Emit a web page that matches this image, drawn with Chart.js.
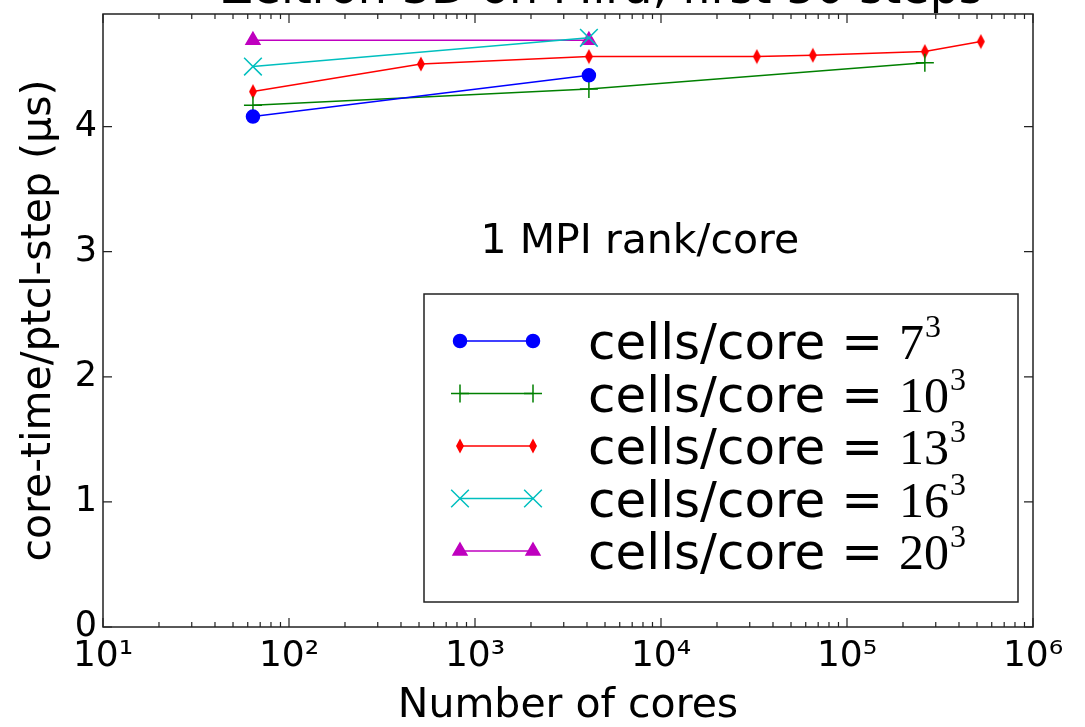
<!DOCTYPE html>
<html>
<head>
<meta charset="utf-8">
<script src="https://cdn.jsdelivr.net/npm/chart.js@4.4.0/dist/chart.umd.min.js"></script>
<style>
  html, body { margin: 0; padding: 0; background: #fff; overflow: hidden; }
</style>
</head>
<body>
<canvas id="chart" width="1085" height="727"></canvas>
<script>
// ===== DONNÉES =====
const cores7 = [64, 4096];
const time7 = [4.08, 4.41];
const cores10 = [64, 4096, 262144];
const time10 = [4.17, 4.30, 4.51];
const cores13 = [64, 512, 4096, 32768, 65536, 262144, 524288];
const time13 = [4.28, 4.50, 4.56, 4.56, 4.57, 4.60, 4.68];
const cores16 = [64, 4096];
const time16 = [4.48, 4.71];
const cores20 = [64, 4096];
const time20 = [4.69, 4.69];

const seriesNames = ['7', '10', '13', '16', '20'];
const xTickValues = [10, 100, 1000, 10000, 100000, 1000000];
const xTickLabels = ['10¹', '10²', '10³', '10⁴', '10⁵', '10⁶'];
const yTickValues = [0, 1, 2, 3, 4];

const titleText = 'Zeltron 3D on Mira, first 50 steps';
const noteText = '1 MPI rank/core';
const noteX = 7700;
const noteY = 2.99;

const FONT = '"DejaVu Sans", sans-serif';

// thin diamond marker (matplotlib 'd')
function thinDiamond(color) {
  const c = document.createElement('canvas');
  c.width = 10; c.height = 16;
  const g = c.getContext('2d');
  g.fillStyle = color;
  g.beginPath();
  g.moveTo(5, 0.5); g.lineTo(9, 8); g.lineTo(5, 15.5); g.lineTo(1, 8);
  g.closePath();
  g.fill();
  return c;
}

const pts = (xs, ys) => xs.map((x, i) => ({ x: x, y: ys[i] }));

const styles = [
  { color: '#0000ff', pointStyle: 'circle', radius: 6.5 },
  { color: '#008000', pointStyle: 'cross', radius: 9 },
  { color: '#ff0000', pointStyle: thinDiamond('#ff0000'), radius: 8 },
  { color: '#00bfbf', pointStyle: 'crossRot', radius: 12.5 },
  { color: '#bf00bf', pointStyle: 'triangle', radius: 8 }
];

const seriesData = [
  pts(cores7, time7),
  pts(cores10, time10),
  pts(cores13, time13),
  pts(cores16, time16),
  pts(cores20, time20)
];

const datasets = seriesData.map((d, i) => ({
  label: 'cells/core = ' + seriesNames[i] + '³',
  data: d,
  borderColor: styles[i].color,
  backgroundColor: styles[i].color,
  borderWidth: 1.5,
  pointStyle: styles[i].pointStyle,
  pointRadius: styles[i].radius,
  pointBorderWidth: 1.5,
  pointBackgroundColor: styles[i].color,
  pointBorderColor: styles[i].color,
  tension: 0
}));

// ===== PLUGIN : cadre, graduations, titre, note, légende =====
const decor = {
  id: 'decor',
  afterDraw(chart) {
    const ctx = chart.ctx;
    const a = chart.chartArea;
    const xs = chart.scales.x, ys = chart.scales.y;
    ctx.save();

    // frame
    ctx.strokeStyle = '#222';
    ctx.lineWidth = 1.5;
    ctx.strokeRect(a.left, a.top, a.right - a.left, a.bottom - a.top);

    // x ticks (inward, top and bottom)
    ctx.lineWidth = 1.2;
    ctx.beginPath();
    for (let d = 1; d < 6; d++) {
      for (let m = 1; m <= 10; m++) {
        const v = Math.pow(10, d) * m;
        const px = xs.getPixelForValue(v);
        const len = (m === 1 || m === 10) ? 9 : 5;
        ctx.moveTo(px, a.bottom); ctx.lineTo(px, a.bottom - len);
        ctx.moveTo(px, a.top); ctx.lineTo(px, a.top + len);
      }
    }
    // y ticks (inward, left and right)
    yTickValues.forEach(v => {
      const py = ys.getPixelForValue(v);
      ctx.moveTo(a.left, py); ctx.lineTo(a.left + 9, py);
      ctx.moveTo(a.right, py); ctx.lineTo(a.right - 9, py);
    });
    ctx.stroke();

    // title (cut by the top edge, as in the picture)
    ctx.fillStyle = '#000';
    ctx.font = '46px ' + FONT;
    ctx.textAlign = 'center';
    ctx.textBaseline = 'alphabetic';
    ctx.fillText(titleText, 602, 3);

    // note
    ctx.font = '41px ' + FONT;
    ctx.fillText(noteText, xs.getPixelForValue(noteX), ys.getPixelForValue(noteY));

    // legend
    const bx = a.right - 609, by = a.bottom - 333, bw = 594, bh = 308;
    ctx.fillStyle = '#fff';
    ctx.fillRect(bx, by, bw, bh);
    ctx.strokeStyle = '#222';
    ctx.lineWidth = 1.5;
    ctx.strokeRect(bx, by, bw, bh);

    datasets.forEach((ds, i) => {
      const cy = by + 47 + i * 52.5;
      const x1 = bx + 36, x2 = bx + 109;
      ctx.strokeStyle = ds.borderColor;
      ctx.lineWidth = 1.5;
      ctx.beginPath(); ctx.moveTo(x1, cy); ctx.lineTo(x2, cy); ctx.stroke();
      ctx.fillStyle = ds.borderColor;
      const opt = { pointStyle: ds.pointStyle, radius: ds.pointRadius, rotation: 0, borderWidth: 1.5 };
      Chart.helpers.drawPoint(ctx, opt, x1, cy);
      Chart.helpers.drawPoint(ctx, opt, x2, cy);

      ctx.fillStyle = '#000';
      ctx.textAlign = 'left';
      ctx.textBaseline = 'alphabetic';
      ctx.font = '50px ' + FONT;
      const tx = bx + 164, ty = cy + 18;
      const pre = 'cells/core = ';
      ctx.fillText(pre, tx, ty);
      let nx = tx + ctx.measureText(pre).width;
      ctx.font = '50px "Liberation Serif", serif';
      ctx.fillText(seriesNames[i], nx, ty);
      nx += ctx.measureText(seriesNames[i]).width;
      ctx.font = '32px "Liberation Serif", serif';
      ctx.fillText('3', nx + 1, ty - 22);
    });

    ctx.restore();
  }
};

// ===== CHART =====
const ctx = document.getElementById('chart').getContext('2d');
new Chart(ctx, {
  type: 'line',
  data: { datasets: datasets },
  options: {
    responsive: false,
    animation: false,
    layout: { padding: { top: 13, right: 52, left: 0, bottom: 0 } },
    plugins: {
      legend: { display: false },
      tooltip: { enabled: false },
      title: { display: false }
    },
    scales: {
      x: {
        type: 'logarithmic',
        min: 10,
        max: 1000000,
        grid: { display: false, drawTicks: false },
        border: { display: false },
        afterBuildTicks: s => { s.ticks = xTickValues.map(v => ({ value: v })); },
        afterFit: s => { s.height = 100; s.paddingLeft = 0; s.paddingRight = 0; },
        ticks: {
          autoSkip: false,
          maxRotation: 0,
          color: '#000',
          padding: 8,
          font: { family: FONT, size: 36 },
          callback: v => xTickLabels[xTickValues.indexOf(v)] || ''
        },
        title: {
          display: true,
          text: 'Number of cores',
          color: '#000',
          font: { family: FONT, size: 41, lineHeight: 1 },
          padding: { top: 0, bottom: 0 }
        }
      },
      y: {
        min: 0,
        max: 4.9,
        grid: { display: false, drawTicks: false },
        border: { display: false },
        afterBuildTicks: s => { s.ticks = yTickValues.map(v => ({ value: v })); },
        afterFit: s => { s.width = 103; s.paddingTop = 0; s.paddingBottom = 0; },
        ticks: {
          color: '#000',
          padding: 6,
          font: { family: FONT, size: 35 }
        },
        title: {
          display: true,
          text: 'core-time/ptcl-step (μs)',
          color: '#000',
          font: { family: FONT, size: 41, lineHeight: 1.2 },
          padding: { top: 15, bottom: 0 }
        }
      }
    }
  },
  plugins: [decor]
});
</script>
</body>
</html>
